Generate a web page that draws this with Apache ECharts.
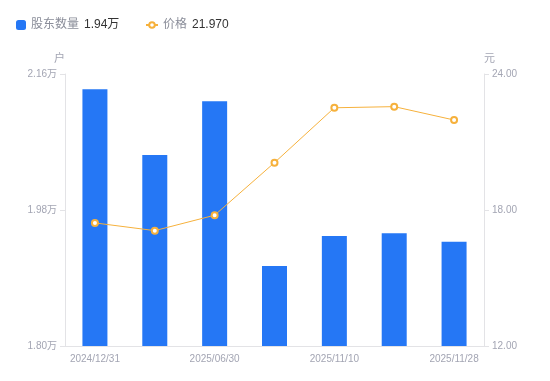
<!DOCTYPE html>
<html>
<head>
<meta charset="utf-8">
<script src="https://cdn.jsdelivr.net/npm/echarts@6/dist/echarts.min.js"></script>
<style>
  html, body { margin: 0; padding: 0; background: #fff; }
  #main { width: 550px; height: 381px; }
</style>
</head>
<body>
<div id="main"></div>
<script>
// 股东户数 + 股价
var dates = ['2024/12/31', '2025/03/31', '2025/06/30', '2025/09/30', '2025/11/10', '2025/11/20', '2025/11/28'];
var holders = [21397, 20528, 21238, 19059, 19456, 19492, 19380];
var prices = [17.43, 17.09, 17.77, 20.09, 22.51, 22.56, 21.970];

var legendValues = {
    '股东数量': (holders[holders.length - 1] / 10000).toFixed(2) + '万',
    '价格': prices[prices.length - 1].toFixed(3)
};

var font = '"Liberation Sans", "Noto Sans CJK SC", sans-serif';

function legendText(name) {
    return '{a|' + name + '}{b|' + legendValues[name] + '}';
}
var legendRich = {
    a: { color: '#8a8d99', fontSize: 12, fontFamily: font },
    b: { color: '#333', fontSize: 12, fontFamily: font, padding: [0, 0, 0, 5] }
};

var myChart = echarts.init(document.getElementById('main'));
var option = {
    animation: false,
    textStyle: { fontFamily: font },
    legend: [
        {
            left: 11,
            top: 14,
            itemWidth: 10,
            itemHeight: 10,
            data: [{ name: '股东数量', icon: 'roundRect' }],
            formatter: legendText,
            textStyle: { rich: legendRich }
        },
        {
            left: 140,
            top: 14,
            itemWidth: 12,
            itemHeight: 7,
            data: [{ name: '价格' }],
            formatter: legendText,
            textStyle: { rich: legendRich }
        }
    ],
    grid: {
        left: 65,
        right: 66,
        top: 74,
        bottom: 35
    },
    xAxis: {
        type: 'category',
        data: dates,
        axisLine: { lineStyle: { color: '#e3e3e6' } },
        axisTick: { show: false },
        axisLabel: {
            interval: 1,
            color: '#a3a5b3',
            fontSize: 10,
            margin: 8
        }
    },
    yAxis: [
        {
            type: 'value',
            name: '户',
            nameGap: 10,
            nameTextStyle: { color: '#a3a5b3', fontSize: 11, align: 'right' },
            min: 18000,
            max: 21600,
            interval: 1800,
            splitLine: { show: false },
            axisLine: { show: true, lineStyle: { color: '#e3e3e6' } },
            axisTick: { show: true, length: 5, lineStyle: { color: '#e3e3e6' } },
            axisLabel: {
                color: '#a3a5b3',
                fontSize: 10,
                formatter: function(v) { return (v / 10000).toFixed(2) + '万'; }
            }
        },
        {
            type: 'value',
            name: '元',
            nameGap: 10,
            nameTextStyle: { color: '#a3a5b3', fontSize: 11, align: 'left' },
            min: 12,
            max: 24,
            interval: 6,
            splitLine: { show: false },
            axisLine: { show: true, lineStyle: { color: '#e3e3e6' } },
            axisTick: { show: true, length: 5, lineStyle: { color: '#e3e3e6' } },
            axisLabel: {
                color: '#a3a5b3',
                fontSize: 10,
                formatter: function(v) { return v.toFixed(2); }
            }
        }
    ],
    series: [
        {
            name: '股东数量',
            type: 'bar',
            yAxisIndex: 0,
            barWidth: 25,
            itemStyle: { color: '#2577f5' },
            data: holders
        },
        {
            name: '价格',
            type: 'line',
            yAxisIndex: 1,
            symbol: 'emptyCircle',
            symbolSize: 6,
            itemStyle: { color: '#f6b13c', borderWidth: 1.5 },
            lineStyle: { width: 1, color: '#f6b13c' },
            data: prices
        }
    ]
};
myChart.setOption(option);
</script>
</body>
</html>
